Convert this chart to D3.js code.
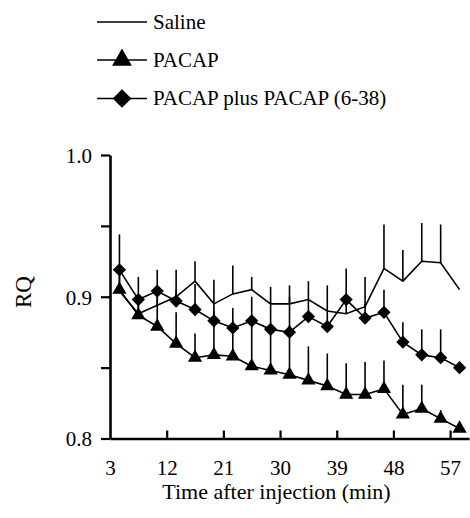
<!DOCTYPE html>
<html>
<head>
<meta charset="utf-8">
<script src="https://cdn.jsdelivr.net/npm/d3@7"></script>
<style>
    body { margin: 0; background: #fff; }
</style>
</head>
<body>
<div id="chart-area"></div>
<script>
// time points (min after injection)
var times = [4.5, 7.5, 10.5, 13.5, 16.5, 19.5, 22.5, 25.5, 28.5, 31.5, 34.5, 37.5, 40.5, 43.5, 46.5, 49.5, 52.5, 55.5, 58.5];

// mean RQ per group
var saline = [0.904, 0.888, 0.894, 0.900, 0.911, 0.895, 0.902, 0.905, 0.895, 0.895, 0.898, 0.890, 0.888, 0.893, 0.920, 0.911, 0.925, 0.924, 0.905];
var pacap = [0.905, 0.887, 0.879, 0.867, 0.857, 0.859, 0.858, 0.851, 0.848, 0.845, 0.841, 0.837, 0.831, 0.831, 0.835, 0.817, 0.821, 0.814, 0.807];
var pacapPlus = [0.919, 0.898, 0.904, 0.897, 0.891, 0.883, 0.878, 0.883, 0.877, 0.875, 0.886, 0.879, 0.898, 0.885, 0.889, 0.868, 0.859, 0.857, 0.850];

// SEM (upper bars only)
var salineSem = [0.014, 0.012, 0.012, 0.019, 0.014, 0.017, 0.020, 0.009, 0.012, 0.013, 0.013, 0.018, 0.006, 0.021, 0.031, 0.022, 0.027, 0.027, 0.0];
var pacapSem = [0.010, 0.010, 0.025, 0.022, 0.017, 0.031, 0.025, 0.035, 0.032, 0.035, 0.024, 0.023, 0.022, 0.023, 0.020, 0.021, 0.017, 0.006, 0.0];
var pacapPlusSem = [0.025, 0.016, 0.015, 0.008, 0.018, 0.012, 0.014, 0.017, 0.018, 0.025, 0.012, 0.011, 0.022, 0.010, 0.016, 0.014, 0.018, 0.020, 0.0];

var xTicks = [3, 12, 21, 30, 39, 48, 57];
var yTicks = [0.8, 0.85, 0.9, 0.95, 1.0];
var yLabels = [0.8, 0.9, 1.0];

var series = [
    {name: "Saline", values: saline, sem: salineSem, symbol: null},
    {name: "PACAP", values: pacap, sem: pacapSem, symbol: d3.symbolTriangle},
    {name: "PACAP plus PACAP (6-38)", values: pacapPlus, sem: pacapPlusSem, symbol: d3.symbolSquare}
];

var serif = "'Liberation Serif', 'Times New Roman', Times, 'DejaVu Serif', serif";

var svg = d3.select("#chart-area").append("svg")
    .attr("width", 470)
    .attr("height", 518)
    .style("font-family", serif);

var x = d3.scaleLinear().domain([3, 60]).range([110, 469]);
var y = d3.scaleLinear().domain([0.8, 1.0]).range([438.5, 155]);

// axes
var xAxis = svg.append("g")
    .attr("transform", "translate(0," + y(0.8) + ")")
    .call(d3.axisBottom(x).tickValues(xTicks).tickSizeInner(-8).tickSizeOuter(0).tickFormat(d3.format("d")));
xAxis.attr("font-family", null);
xAxis.select(".domain").attr("stroke-width", 2.6);
xAxis.selectAll(".tick line").attr("stroke-width", 2.2)
    .filter(function (d) { return d === 3; }).remove();
xAxis.selectAll(".tick text")
    .attr("y", 36).attr("dy", 0)
    .style("font-family", serif)
    .style("font-size", "21px");

var yAxis = svg.append("g")
    .attr("transform", "translate(" + x(3) + ",0)")
    .call(d3.axisLeft(y).tickValues(yTicks).tickSizeInner(9).tickSizeOuter(0)
        .tickFormat(function (d) { return yLabels.indexOf(d) >= 0 ? d3.format(".1f")(d) : ""; }));
yAxis.attr("font-family", null);
yAxis.select(".domain").attr("stroke-width", 2.6);
yAxis.selectAll(".tick line").attr("stroke-width", 2.2);
yAxis.selectAll(".tick text")
    .attr("x", -18).attr("dy", "0.35em")
    .style("font-family", serif)
    .style("font-size", "21px");

// error bars
series.forEach(function (s) {
    svg.append("g").selectAll("line")
        .data(s.values)
        .enter().append("line")
        .attr("x1", function (d, i) { return x(times[i]); })
        .attr("x2", function (d, i) { return x(times[i]); })
        .attr("y1", function (d) { return y(d); })
        .attr("y2", function (d, i) { return y(d + s.sem[i]); })
        .attr("stroke", "#000")
        .attr("stroke-width", 1.6);
});

// lines
var line = d3.line()
    .x(function (d, i) { return x(times[i]); })
    .y(function (d) { return y(d); });

series.forEach(function (s) {
    svg.append("path")
        .datum(s.values)
        .attr("d", line)
        .attr("fill", "none")
        .attr("stroke", "#000")
        .attr("stroke-width", 1.6);
});

// markers
function markerPath(sym, big) {
    if (sym === d3.symbolTriangle) return d3.symbol().type(sym).size(big ? 170 : 88)();
    return d3.symbol().type(sym).size(big ? 175 : 88)();
}
function markerRot(sym) {
    return sym === d3.symbolSquare ? " rotate(45)" : "";
}

series.forEach(function (s) {
    if (!s.symbol) return;
    svg.append("g").selectAll("path")
        .data(s.values)
        .enter().append("path")
        .attr("d", markerPath(s.symbol, false))
        .attr("transform", function (d, i) {
            return "translate(" + x(times[i]) + "," + y(d) + ")" + markerRot(s.symbol);
        })
        .attr("fill", "#000");
});

// legend
var legendY = [22, 60, 98.5];
var legend = svg.append("g");
series.forEach(function (s, i) {
    legend.append("line")
        .attr("x1", 97).attr("x2", 147)
        .attr("y1", legendY[i]).attr("y2", legendY[i])
        .attr("stroke", "#000").attr("stroke-width", 1.6);
    if (s.symbol) {
        legend.append("path")
            .attr("d", markerPath(s.symbol, true))
            .attr("transform", "translate(122," + legendY[i] + ")" + markerRot(s.symbol))
            .attr("fill", "#000");
    }
    legend.append("text")
        .attr("x", 153)
        .attr("y", legendY[i] + 6.5)
        .style("font-family", serif)
        .style("font-size", "21px")
        .text(s.name);
});

// axis titles
svg.append("text")
    .attr("x", 276.5)
    .attr("y", 499)
    .attr("text-anchor", "middle")
    .style("font-family", serif)
    .style("font-size", "22px")
    .text("Time after injection (min)");

svg.append("text")
    .attr("transform", "translate(31,292) rotate(-90)")
    .attr("text-anchor", "middle")
    .style("font-family", serif)
    .style("font-size", "23px")
    .text("RQ");
</script>
</body>
</html>
